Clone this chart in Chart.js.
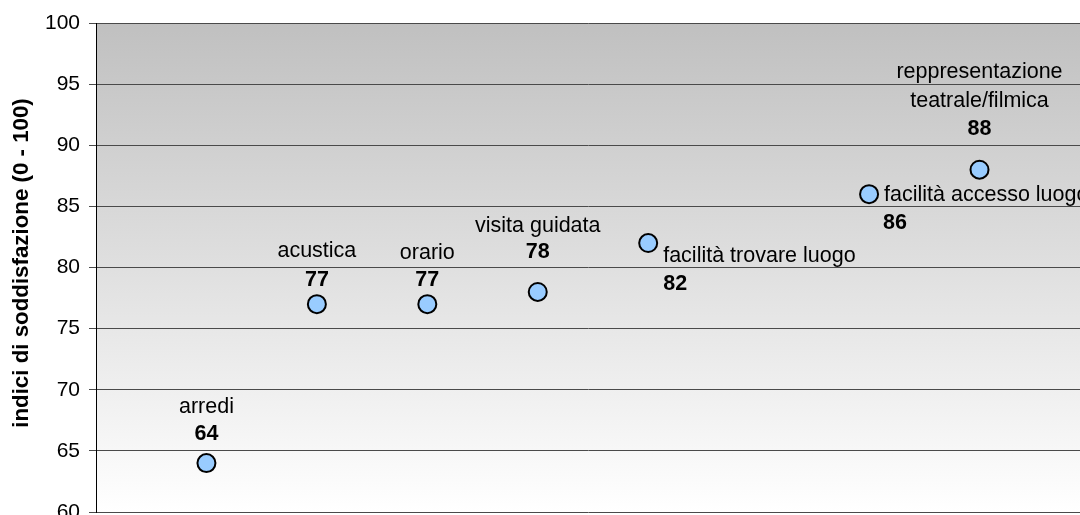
<!DOCTYPE html>
<html>
<head>
<meta charset="utf-8">
<script src="https://cdn.jsdelivr.net/npm/chart.js@4"></script>
<style>
  html, body { margin: 0; padding: 0; background: #fff; overflow: hidden; }
</style>
</head>
<body>
<canvas id="soddisfazione" width="1080" height="515"></canvas>
<script>
const categories = [
  'arredi',
  'acustica',
  'orario',
  'visita guidata',
  'facilità trovare luogo',
  'facilità accesso luogo',
  'reppresentazione teatrale/filmica'
];
const positions = [1, 2, 3, 4, 5, 7, 8];
const values = [64, 77, 77, 78, 82, 86, 88];
const yTicks = [60, 65, 70, 75, 80, 85, 90, 95, 100];

// where each label sits relative to its point (lines of the name, offsets in px)
const labelLayout = [
  { lines: ['arredi'], align: 'center', dx: 0, dy: [-50], vdx: 0, vdy: -23 },
  { lines: ['acustica'], align: 'center', dx: 0, dy: [-47], vdx: 0, vdy: -18 },
  { lines: ['orario'], align: 'center', dx: 0, dy: [-45], vdx: 0, vdy: -18 },
  { lines: ['visita guidata'], align: 'center', dx: 0, dy: [-60], vdx: 0, vdy: -34 },
  { lines: ['facilità trovare luogo'], align: 'left', dx: 15, dy: [19], vdx: 15, vdy: 47 },
  { lines: ['facilità accesso luogo'], align: 'left', dx: 15, dy: [7], vdx: 14, vdy: 35 },
  { lines: ['reppresentazione', 'teatrale/filmica'], align: 'center', dx: 0, dy: [-92, -63], vdx: 0, vdy: -35 }
];

const FONT = '"Liberation Sans", Arial, sans-serif';

const plotBackground = {
  id: 'plotBackground',
  beforeDraw(chart) {
    const { ctx, chartArea: a } = chart;
    const g = ctx.createLinearGradient(0, a.top, 0, a.bottom);
    g.addColorStop(0, '#c0c0c0');
    g.addColorStop(1, '#ffffff');
    ctx.save();
    ctx.fillStyle = g;
    ctx.fillRect(a.left, a.top, a.right - a.left, a.bottom - a.top);
    ctx.restore();
  }
};

const pointLabels = {
  id: 'pointLabels',
  afterDatasetsDraw(chart) {
    const { ctx } = chart;
    const meta = chart.getDatasetMeta(0);
    ctx.save();
    ctx.fillStyle = '#000';
    ctx.textBaseline = 'alphabetic';
    meta.data.forEach((pt, i) => {
      const l = labelLayout[i];
      ctx.textAlign = l.align;
      ctx.font = '21.5px ' + FONT;
      l.lines.forEach((txt, j) => ctx.fillText(txt, pt.x + l.dx, pt.y + l.dy[j]));
      ctx.font = 'bold 21.5px ' + FONT;
      ctx.fillText(String(values[i]), pt.x + l.vdx, pt.y + l.vdy);
    });
    ctx.restore();
  }
};

const axisTitle = {
  id: 'axisTitle',
  afterDraw(chart) {
    const { ctx } = chart;
    ctx.save();
    ctx.translate(22, 263);
    ctx.rotate(-Math.PI / 2);
    ctx.font = 'bold 22.3px ' + FONT;
    ctx.fillStyle = '#000';
    ctx.textAlign = 'center';
    ctx.textBaseline = 'middle';
    ctx.fillText('indici di soddisfazione (0 - 100)', 0, 0);
    ctx.restore();
  }
};

new Chart(document.getElementById('soddisfazione'), {
  type: 'scatter',
  data: {
    datasets: [{
      label: 'indici',
      data: positions.map((x, i) => ({ x: x, y: values[i] })),
      backgroundColor: '#99ccff',
      borderColor: '#000',
      borderWidth: 2,
      pointRadius: 9,
      pointHoverRadius: 9
    }]
  },
  options: {
    responsive: false,
    animation: false,
    layout: { autoPadding: false, padding: { top: 23, bottom: 3, left: 0, right: 0 } },
    plugins: {
      legend: { display: false },
      tooltip: { enabled: false }
    },
    scales: {
      x: { type: 'linear', min: 0, max: 8.91, display: false },
      y: {
        min: 60,
        max: 100,
        afterBuildTicks(scale) {
          scale.ticks = yTicks.map(v => ({ value: v }));
        },
        afterFit(scale) {
          scale.width = 96;
          scale.paddingTop = 0;
          scale.paddingBottom = 0;
        },
        ticks: {
          color: '#000',
          padding: 9,
          font: { family: FONT, size: 21 }
        },
        grid: { color: '#4a4a4a', lineWidth: 1, tickLength: 7 },
        border: { color: '#000', width: 1 }
      }
    }
  },
  plugins: [plotBackground, pointLabels, axisTitle]
});
</script>
</body>
</html>
